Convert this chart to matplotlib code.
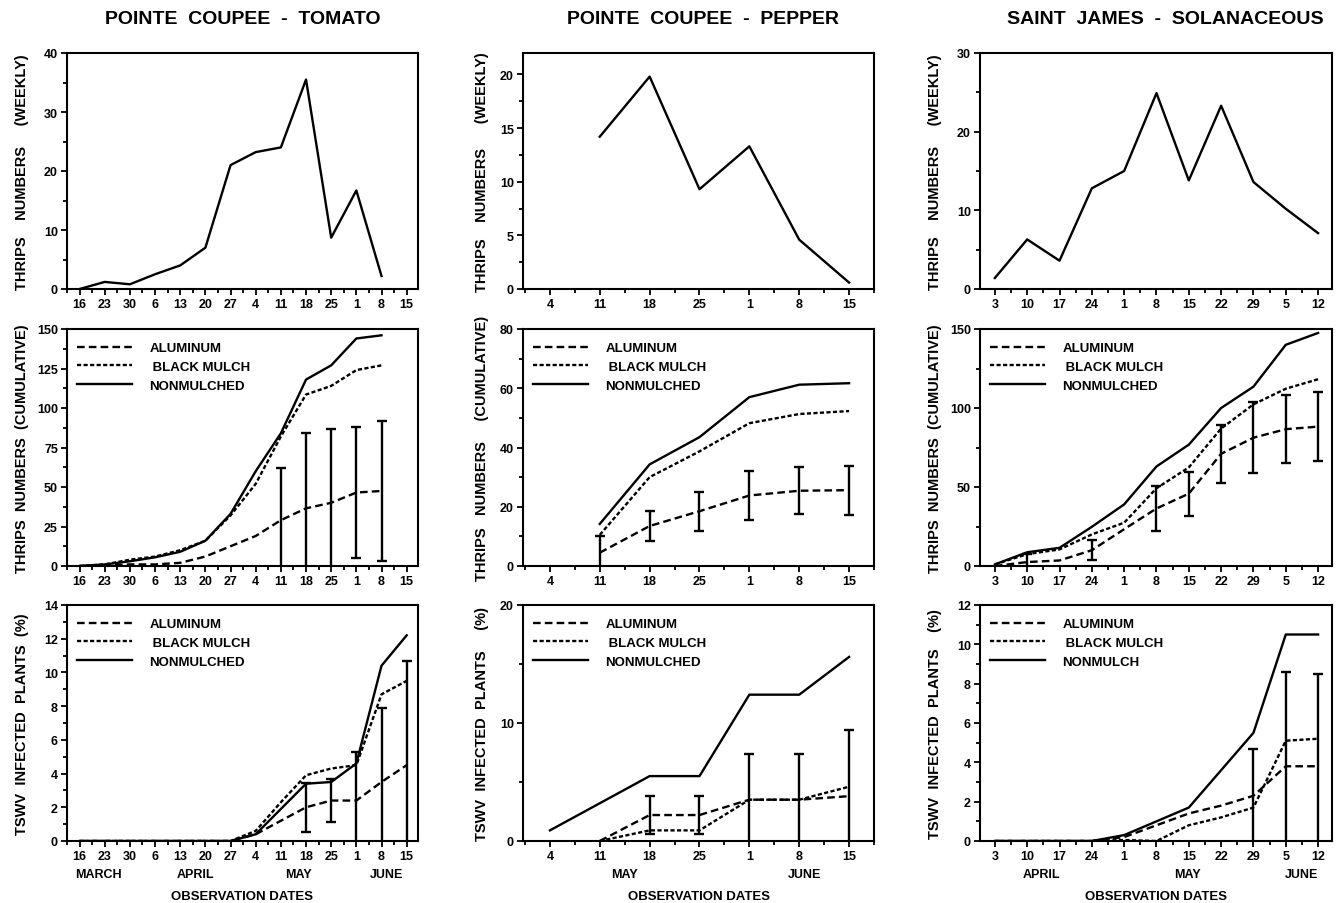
import numpy as np
import matplotlib
matplotlib.use("Agg")
import matplotlib.pyplot as plt
from matplotlib.ticker import FixedLocator, MultipleLocator

plt.rcParams["font.family"] = ["Liberation Sans", "DejaVu Sans"]
plt.rcParams["font.weight"] = "bold"
plt.rcParams["lines.scale_dashes"] = False

nan = np.nan

# ---------------- data ----------------
# Pointe Coupee - tomato
tom_days = ["16", "23", "30", "6", "13", "20", "27", "4", "11", "18", "25", "1", "8", "15"]
tom_months = ["MARCH", "APRIL", "MAY", "JUNE"]
tom_month_at = [0.75, 4.6, 8.7, 12.2]
tom_weekly = [0, 1.2, 0.8, 2.5, 4, 7, 21, 23.2, 24, 35.5, 8.7, 16.7, 2.2, nan]
tom_cum_al = [0, 0.5, 1, 1, 2, 6, 12.5, 19, 29, 36.5, 40, 46.5, 47.5, nan]
tom_cum_bm = [0, 1, 4, 6, 10, 16, 32, 52, 82, 108.5, 114, 124, 127, nan]
tom_cum_nm = [0, 1, 3, 5.5, 9, 16, 33, 60, 84, 118, 127, 144, 146, nan]
tom_cum_err = [nan, nan, nan, nan, nan, nan, nan, nan, 33, 47.5, 47, 41.5, 44.5, nan]
tom_tswv_al = [0, 0, 0, 0, 0, 0, 0, 0.4, 1.2, 2.0, 2.4, 2.4, 3.5, 4.5]
tom_tswv_bm = [0, 0, 0, 0, 0, 0, 0, 0.6, 2.3, 3.9, 4.3, 4.5, 8.7, 9.5]
tom_tswv_nm = [0, 0, 0, 0, 0, 0, 0, 0.4, 1.9, 3.4, 3.5, 4.6, 10.4, 12.2]
tom_tswv_err = [nan, nan, nan, nan, nan, nan, nan, nan, nan, 1.45, 1.3, 2.9, 4.4, 6.2]

# Pointe Coupee - pepper
pep_days = ["4", "11", "18", "25", "1", "8", "15"]
pep_months = ["MAY", "JUNE"]
pep_month_at = [1.5, 5.1]
pep_weekly = [nan, 14.2, 19.8, 9.3, 13.3, 4.6, 0.6]
pep_cum_al = [nan, 4.5, 13.5, 18.5, 23.8, 25.4, 25.6]
pep_cum_bm = [nan, 10.5, 30, 38.7, 48.2, 51.3, 52.3]
pep_cum_nm = [nan, 14.2, 34.3, 43.5, 57, 61.2, 61.7]
pep_cum_err = [nan, 5.7, 5.2, 6.6, 8.3, 7.9, 8.3]
pep_tswv_al = [nan, 0, 2.2, 2.2, 3.5, 3.5, 3.8]
pep_tswv_bm = [nan, 0, 0.9, 0.9, 3.5, 3.5, 4.6]
pep_tswv_nm = [0.9, 3.2, 5.5, 5.5, 12.4, 12.4, 15.6]
pep_tswv_err = [nan, nan, 1.6, 1.6, 3.9, 3.9, 5.6]

# Saint James - solanaceous
sj_days = ["3", "10", "17", "24", "1", "8", "15", "22", "29", "5", "12"]
sj_months = ["APRIL", "MAY", "JUNE"]
sj_month_at = [1.45, 5.97, 9.5]
sj_weekly = [1.4, 6.3, 3.6, 12.8, 15.0, 24.9, 13.8, 23.3, 13.6, 10.2, 7.1]
sj_cum_al = [0, 2.5, 3.5, 10, 23.3, 36.4, 45.8, 71, 81.2, 86.6, 88.2]
sj_cum_bm = [1, 7.5, 10.5, 20, 27.4, 49.2, 62.4, 87, 102.3, 112.2, 118.2]
sj_cum_nm = [1, 8.7, 11.5, 24.8, 39, 63, 76.8, 100, 113.5, 140, 147.5]
sj_cum_err = [nan, 5, nan, 6.5, nan, 14, 14, 18.5, 22.5, 21.5, 22]
sj_tswv_al = [0, 0, 0, 0, 0.2, 0.8, 1.4, 1.8, 2.3, 3.8, 3.8]
sj_tswv_bm = [0, 0, 0, 0, 0.05, 0, 0.8, 1.2, 1.7, 5.1, 5.2]
sj_tswv_nm = [0, 0, 0, 0, 0.3, 1.0, 1.7, 3.6, 5.5, 10.5, 10.5]
sj_tswv_err = [nan, nan, nan, nan, nan, nan, nan, nan, 2.4, 4.8, 4.7]

titles = ["POINTE  COUPEE  -  TOMATO", "POINTE  COUPEE  -  PEPPER",
          "SAINT  JAMES  -  SOLANACEOUS"]
legend_std = ["ALUMINUM", " BLACK MULCH", "NONMULCHED"]
legend_sj_tswv = ["ALUMINUM", " BLACK MULCH", "NONMULCH"]

# ---------------- layout (pixels) ----------------
W, H = 1342, 904
COLS = [(67, 418), (523, 874), (980, 1332)]
ROWS = [(54, 290), (330, 567), (606, 842)]
XLIMS = [(-0.5, 13.45), (-0.54, 6.5), (-0.46, 10.43)]
TITLE_X = [243, 703, 1165]
LW = 1.7

fig = plt.figure(figsize=(W / 100, H / 100), dpi=100)


def new_ax(col, row, days, ymax, ymajor):
    l, r = COLS[col]
    t, b = ROWS[row]
    ax = fig.add_axes([l / W, 1 - b / H, (r - l) / W, (b - t) / H])
    for s in ax.spines.values():
        s.set_linewidth(1.5)
    x = np.arange(len(days))
    ax.xaxis.set_major_locator(FixedLocator(x))
    ax.set_xticklabels(days)
    ax.xaxis.set_minor_locator(MultipleLocator(0.5))
    ax.set_xlim(*XLIMS[col])
    ax.set_ylim(0, ymax)
    ax.set_yticks(np.arange(0, ymax + 0.01, ymajor))
    ax.yaxis.set_minor_locator(MultipleLocator(ymajor / 2))
    ax.tick_params(which="both", direction="out", width=1.3, labelsize=9,
                   top=False, right=False)
    ax.tick_params(which="major", length=4.5, pad=2)
    ax.tick_params(which="minor", length=3)
    return ax, x


def set_ylab(ax, col, text):
    ax.set_ylabel(text, fontsize=10.5, fontweight="bold")
    ax.yaxis.set_label_coords([-0.108, -0.097, -0.108][col], 0.5)


def weekly(ax, x, y):
    ax.plot(x, y, color="k", lw=LW)


def treatments(ax, x, al, bm, nm, err, labels):
    ax.plot(x, al, color="k", lw=LW, dashes=(5.5, 3), label=labels[0])
    ax.plot(x, bm, color="k", lw=LW, dashes=(3, 1.7), label=labels[1])
    ax.plot(x, nm, color="k", lw=LW, label=labels[2])
    err = np.asarray(err, float)
    al = np.asarray(al, float)
    m = ~np.isnan(err)
    ax.errorbar(x[m], al[m], yerr=err[m], fmt="none", ecolor="k",
                elinewidth=LW, capsize=3.5, capthick=LW)
    ax.legend(loc="upper left", bbox_to_anchor=(0.028, 0.945), frameon=False,
              prop={"size": 9.5, "weight": "bold"}, handlelength=4.2,
              handletextpad=1.3, labelspacing=0.5, borderaxespad=0, borderpad=0)


def months(ax, names, at):
    for name, pos in zip(names, at):
        ax.annotate(name, xy=(pos, 0), xycoords=ax.get_xaxis_transform(),
                    xytext=(0, -23.5), textcoords="offset points",
                    ha="center", va="center", fontsize=9, fontweight="bold")
    ax.text(0.5, -0.235, "OBSERVATION DATES", transform=ax.transAxes,
            ha="center", va="center", fontsize=9.5, fontweight="bold")


# ---- column 1: tomato
ax, x = new_ax(0, 0, tom_days, 40, 10)
weekly(ax, x, tom_weekly)
set_ylab(ax, 0, "THRIPS    NUMBERS     (WEEKLY)")
ax, x = new_ax(0, 1, tom_days, 150, 25)
treatments(ax, x, tom_cum_al, tom_cum_bm, tom_cum_nm, tom_cum_err, legend_std)
set_ylab(ax, 0, "THRIPS  NUMBERS  (CUMULATIVE)")
ax, x = new_ax(0, 2, tom_days, 14, 2)
treatments(ax, x, tom_tswv_al, tom_tswv_bm, tom_tswv_nm, tom_tswv_err, legend_std)
set_ylab(ax, 0, "TSWV  INFECTED  PLANTS  (%)")
months(ax, tom_months, tom_month_at)

# ---- column 2: pepper
ax, x = new_ax(1, 0, pep_days, 22, 5)
ax.set_yticks([0, 5, 10, 15, 20])
weekly(ax, x, pep_weekly)
set_ylab(ax, 1, "THRIPS    NUMBERS      (WEEKLY)")
ax, x = new_ax(1, 1, pep_days, 80, 20)
treatments(ax, x, pep_cum_al, pep_cum_bm, pep_cum_nm, pep_cum_err, legend_std)
set_ylab(ax, 1, "THRIPS   NUMBERS     (CUMULATIVE)")
ax, x = new_ax(1, 2, pep_days, 20, 10)
treatments(ax, x, pep_tswv_al, pep_tswv_bm, pep_tswv_nm, pep_tswv_err, legend_std)
set_ylab(ax, 1, "TSWV  INFECTED  PLANTS     (%)")
months(ax, pep_months, pep_month_at)

# ---- column 3: Saint James
ax, x = new_ax(2, 0, sj_days, 30, 10)
weekly(ax, x, sj_weekly)
set_ylab(ax, 2, "THRIPS    NUMBERS     (WEEKLY)")
ax, x = new_ax(2, 1, sj_days, 150, 50)
treatments(ax, x, sj_cum_al, sj_cum_bm, sj_cum_nm, sj_cum_err, legend_std)
set_ylab(ax, 2, "THRIPS  NUMBERS  (CUMULATIVE)")
ax, x = new_ax(2, 2, sj_days, 12, 2)
treatments(ax, x, sj_tswv_al, sj_tswv_bm, sj_tswv_nm, sj_tswv_err, legend_sj_tswv)
set_ylab(ax, 2, "TSWV  INFECTED  PLANTS    (%)")
months(ax, sj_months, sj_month_at)

for t, cx in zip(titles, TITLE_X):
    fig.text(cx / W, 1 - 20 / H, t, ha="center", va="center",
             fontsize=14, fontweight="bold")

fig.savefig("out.png", dpi=100)
